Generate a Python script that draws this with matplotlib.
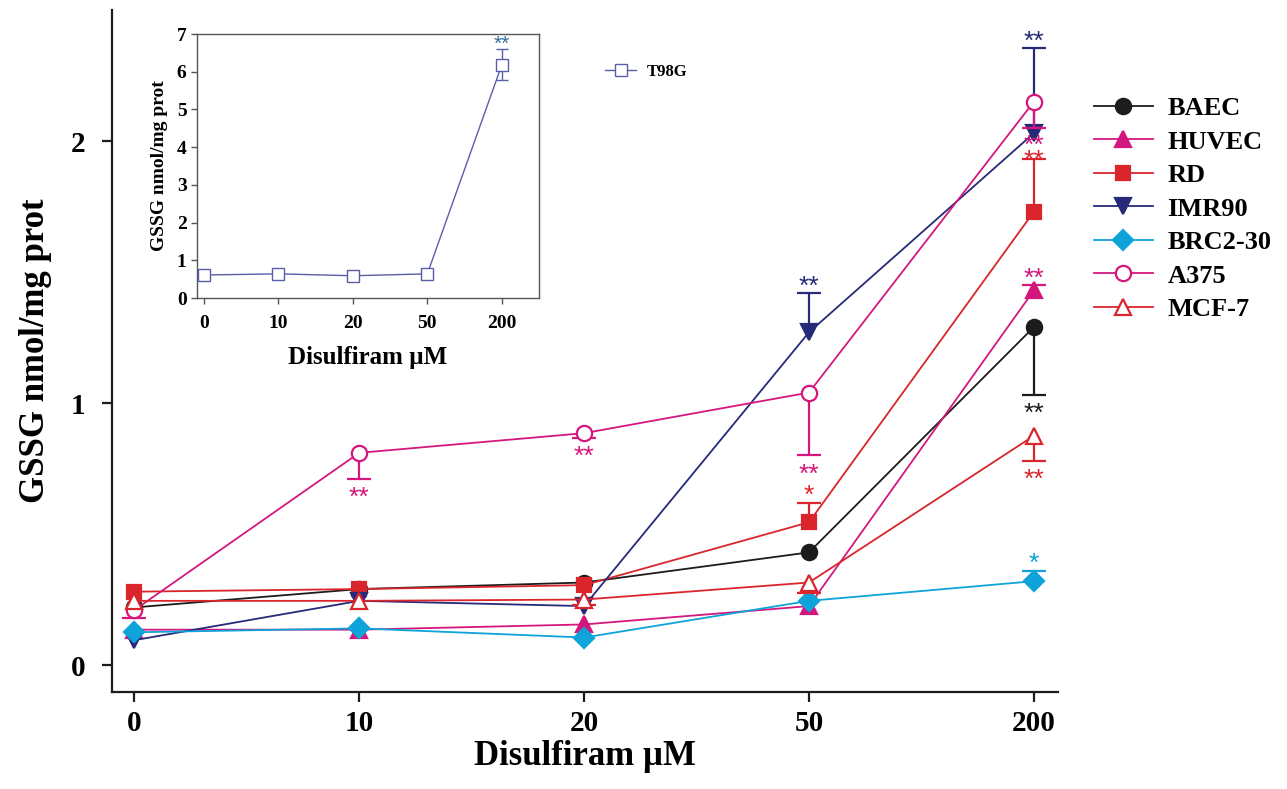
import matplotlib
matplotlib.use("Agg")
import matplotlib.pyplot as plt
import numpy as np

# ---------------- data ----------------
dose_labels = ["0", "10", "20", "50", "200"]

series_names = ["BAEC", "HUVEC", "RD", "IMR90", "BRC2-30", "A375", "MCF-7"]
BAEC   = [0.22, 0.29, 0.315, 0.43, 1.29]
HUVEC  = [0.135, 0.135, 0.155, 0.225, 1.43]
RD     = [0.28, 0.29, 0.305, 0.545, 1.73]
IMR90  = [0.095, 0.245, 0.225, 1.27, 2.03]
BRC230 = [0.125, 0.14, 0.105, 0.245, 0.32]
A375   = [0.21, 0.81, 0.885, 1.04, 2.15]
MCF7   = [0.245, 0.245, 0.25, 0.315, 0.875]

# one-sided error bars (lower, upper)
BAEC_err   = ([0, 0, 0, 0, 0.26], [0, 0, 0, 0, 0])
HUVEC_err  = ([0, 0, 0, 0, 0], [0, 0, 0, 0, 0.02])
RD_err     = ([0, 0, 0, 0, 0], [0, 0, 0, 0.075, 0.20])
IMR90_err  = ([0, 0, 0, 0, 0], [0, 0, 0, 0.15, 0.325])
BRC230_err = ([0, 0, 0, 0, 0], [0, 0, 0, 0, 0.04])
A375_err   = ([0.03, 0.10, 0.02, 0.24, 0.10], [0, 0, 0, 0, 0])
MCF7_err   = ([0, 0, 0.02, 0.04, 0.095], [0, 0, 0, 0, 0])

# significance marks: (series, dose index, text, side)
stars = [
    ("IMR90", 3, "**", "above"), ("IMR90", 4, "**", "above"),
    ("A375", 1, "**", "below"), ("A375", 2, "**", "below"),
    ("A375", 3, "**", "below"), ("A375", 4, "**", "below"),
    ("RD", 3, "*", "above"), ("RD", 4, "**", "above"),
    ("HUVEC", 4, "**", "above"),
    ("BAEC", 4, "**", "below"),
    ("MCF-7", 4, "**", "below"),
    ("BRC2-30", 4, "*", "above"),
]

# inset: T98G
T98G = [0.61, 0.64, 0.59, 0.64, 6.18]
T98G_err = ([0, 0, 0, 0, 0.40], [0, 0, 0, 0, 0.41])
T98G_stars = [(4, "**", "above")]

# ---------------- styles ----------------
BLACK = "#1c1c1c"
MAGENTA = "#d4177f"
RED = "#d9252b"
NAVY = "#262a78"
CYAN = "#0ea3d9"
INSET_C = "#5a5ea8"
STAR_FONT = "Liberation Sans"
# small text nudges (points) where marks crowd together
star_nudge = {("RD", 4): -6, ("A375", 4): 1}

styles = {
    "BAEC":    dict(color=BLACK, marker="o", mfc=BLACK, ms=11),
    "HUVEC":   dict(color=MAGENTA, marker="^", mfc=MAGENTA, ms=11),
    "RD":      dict(color=RED, marker="s", mfc=RED, ms=10),
    "IMR90":   dict(color=NAVY, marker="v", mfc=NAVY, ms=11),
    "BRC2-30": dict(color=CYAN, marker="D", mfc=CYAN, ms=10),
    "A375":    dict(color=MAGENTA, marker="o", mfc="white", ms=11),
    "MCF-7":   dict(color=RED, marker="^", mfc="white", ms=11),
}
values = {"BAEC": BAEC, "HUVEC": HUVEC, "RD": RD, "IMR90": IMR90,
          "BRC2-30": BRC230, "A375": A375, "MCF-7": MCF7}
errors = {"BAEC": BAEC_err, "HUVEC": HUVEC_err, "RD": RD_err, "IMR90": IMR90_err,
          "BRC2-30": BRC230_err, "A375": A375_err, "MCF-7": MCF7_err}

plt.rcParams["font.family"] = ["Liberation Serif", "DejaVu Sans"]
plt.rcParams["font.weight"] = "bold"


def one_sided_errors(axis, xs, ys, err, color, lw, capw, z):
    lo, up = err
    for xi, yi, l, u in zip(xs, ys, lo, up):
        for d in (-l, u):
            if d != 0:
                axis.vlines(xi, yi, yi + d, color=color, lw=lw, zorder=z)
                axis.plot([xi], [yi + d], marker="_", ms=capw, mew=lw,
                          color=color, zorder=z)


fig = plt.figure(figsize=(12.87, 7.89), dpi=100)
ax = fig.add_axes([0.0870, 0.1229, 0.7350, 0.8644])

x = np.arange(len(dose_labels))
handles = []
for k, name in enumerate(series_names):
    st = styles[name]
    one_sided_errors(ax, x, values[name], errors[name], st["color"], 1.6, 17, 2 + k * 0.1)
    ln, = ax.plot(x, values[name], color=st["color"], lw=1.3, marker=st["marker"],
                  ms=st["ms"], mfc=st["mfc"], mec=st["color"], mew=1.6,
                  zorder=2.05 + k * 0.1, label=name)
    handles.append(ln)

for name, i, txt, side in stars:
    lo, up = errors[name]
    c = styles[name]["color"]
    nud = star_nudge.get((name, i), 0)
    if side == "above":
        yv = values[name][i] + up[i]
        ax.annotate(txt, (x[i], yv), xytext=(0, -4 + nud), textcoords="offset points",
                    ha="center", va="bottom", color=c, fontsize=19,
                    family=STAR_FONT, fontweight="normal")
    else:
        yv = values[name][i] - lo[i]
        ax.annotate(txt, (x[i], yv), xytext=(0, -5 + nud), textcoords="offset points",
                    ha="center", va="top", color=c, fontsize=19,
                    family=STAR_FONT, fontweight="normal")

ax.set_xlim(-0.1, 4.107)
ax.set_ylim(-0.103, 2.5)
ax.set_xticks(x)
ax.set_xticklabels(dose_labels)
ax.set_yticks([0, 1, 2])
for s in ["top", "right"]:
    ax.spines[s].set_visible(False)
for s in ["left", "bottom"]:
    ax.spines[s].set_linewidth(1.6)
    ax.spines[s].set_color(BLACK)
ax.tick_params(axis="both", length=7, width=1.6, color=BLACK, labelsize=21)
ax.tick_params(axis="y", pad=12)
ax.tick_params(axis="x", pad=6)
ax.set_xlabel("Disulfiram \u00b5M", fontsize=25, fontweight="bold", labelpad=2)
ax.set_ylabel("GSSG nmol/mg prot", fontsize=25, fontweight="bold", labelpad=14)

fig.legend(handles=handles, labels=series_names, loc="upper left",
           bbox_to_anchor=(1083 / 1287, 1 - 86 / 789), frameon=False,
           fontsize=19, handlelength=2.25, handletextpad=0.55,
           labelspacing=0.38, borderaxespad=0)

# ---------------- inset ----------------
axi = fig.add_axes([197 / 1287, 1 - 298 / 789, 342 / 1287, 264 / 789])
one_sided_errors(axi, x, T98G, T98G_err, INSET_C, 1.0, 8, 2)
h, = axi.plot(x, T98G, color=INSET_C, lw=1.0, marker="s", ms=8,
              mfc="white", mec=INSET_C, mew=1.0, zorder=3, label="T98G")
for i, txt, side in T98G_stars:
    axi.annotate(txt, (x[i], T98G[i] + T98G_err[1][i]), xytext=(0, -3),
                 textcoords="offset points", ha="center", va="bottom",
                 color="#2d6e9e", fontsize=15, family=STAR_FONT, fontweight="normal")
axi.set_xlim(-0.094, 4.5)
axi.set_ylim(0, 7)
axi.set_xticks(x)
axi.set_xticklabels(dose_labels)
axi.set_yticks(range(0, 8))
for s in axi.spines.values():
    s.set_color("#555555")
    s.set_linewidth(1.0)
axi.tick_params(axis="both", length=4, width=1.0, color="#555555", labelsize=14)
axi.tick_params(axis="x", pad=8)
axi.set_xlabel("Disulfiram \u00b5M", fontsize=18, fontweight="bold", labelpad=10)
axi.set_ylabel("GSSG nmol/mg prot", fontsize=14, fontweight="bold", labelpad=6)

fig.legend(handles=[h], labels=["T98G"], loc="center left",
           bbox_to_anchor=(598 / 1287, 1 - 72 / 789), frameon=False,
           fontsize=12, handlelength=1.9, handletextpad=0.6, borderaxespad=0)

fig.savefig("out.png", dpi=100)
